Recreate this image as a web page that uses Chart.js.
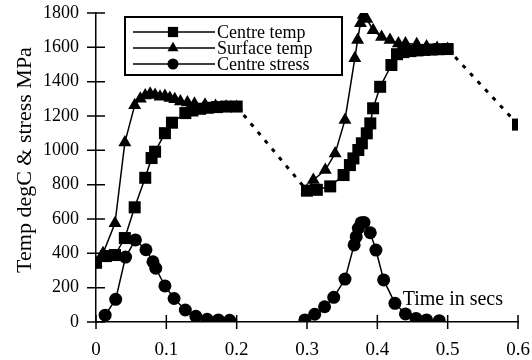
<!DOCTYPE html>
<html>
<head>
<meta charset="utf-8">
<script src="https://cdn.jsdelivr.net/npm/chart.js@4/dist/chart.umd.min.js"></script>
<style>
  html, body { margin: 0; padding: 0; background: #fff; }
  #wrap { position: relative; width: 532px; height: 360px; }
</style>
</head>
<body>
<div id="wrap"><canvas id="c"></canvas></div>
<script>
// ---- data ----
const seriesLabels = ['Centre temp', 'Surface temp', 'Centre stress'];

const centreTime = [0, 0.014, 0.027, 0.041, 0.055, 0.07, 0.079, 0.084, 0.098, 0.108, 0.127, 0.137, 0.148, 0.159, 0.172, 0.185, 0.2,
  0.3, 0.314, 0.333, 0.352, 0.361, 0.366, 0.373, 0.378, 0.385, 0.39, 0.394, 0.404, 0.42, 0.428, 0.437, 0.447, 0.457, 0.467, 0.477, 0.487, 0.5,
  0.6];
const centreTemp = [345, 384, 390, 489, 668, 840, 955, 992, 1100, 1161, 1217, 1232, 1242, 1248, 1252, 1255, 1255,
  765, 770, 790, 856, 914, 953, 1002, 1041, 1099, 1157, 1245, 1370, 1497, 1560, 1572, 1578, 1582, 1585, 1587, 1589, 1590,
  1150];

const surfaceTime = [0, 0.01, 0.027, 0.041, 0.055, 0.063, 0.07, 0.077, 0.084, 0.091, 0.098, 0.105, 0.112, 0.12, 0.13, 0.14, 0.155, 0.17, 0.185, 0.2,
  0.3, 0.309, 0.326, 0.34, 0.354, 0.368, 0.372, 0.376, 0.38, 0.385, 0.394, 0.406, 0.418, 0.43, 0.44, 0.456, 0.47, 0.485, 0.5];
const surfaceTemp = [345, 400, 575, 1045, 1262, 1300, 1320, 1330, 1322, 1312, 1316, 1305, 1298, 1285, 1278, 1272, 1265, 1258, 1254, 1252,
  765, 827, 885, 982, 1177, 1536, 1643, 1740, 1788, 1765, 1700, 1660, 1643, 1623, 1623, 1618, 1605, 1596, 1590];

const stressTime = [0.013, 0.028, 0.042, 0.056, 0.071, 0.081, 0.085, 0.098, 0.111, 0.127, 0.142, 0.158, 0.174, 0.19,
  0.297, 0.311, 0.325, 0.338, 0.354, 0.367, 0.37, 0.373, 0.377, 0.381, 0.39, 0.398, 0.409, 0.425, 0.44, 0.455, 0.47, 0.488];
const stressVal = [40, 132, 378, 478, 421, 351, 313, 210, 137, 70, 33, 16, 12, 10,
  12, 45, 89, 144, 250, 449, 497, 546, 578, 580, 520, 419, 245, 109, 47, 21, 12, 8];

const xTicks = [0, 0.1, 0.2, 0.3, 0.4, 0.5, 0.6];
const yTicks = [0, 200, 400, 600, 800, 1000, 1200, 1400, 1600, 1800];
const yTitle = 'Temp degC & stress MPa';
const xNote = 'Time in secs';

// ---- build ----
const pts = (t, v) => t.map((x, i) => ({ x: x, y: v[i] }));
const FONT = "'Liberation Serif', 'Times New Roman', serif";
const gapCheck = c => (c.p1.parsed.x - c.p0.parsed.x) > 0.05;

const markerStyles = ['rect', 'triangle', 'circle'];
const markerRadius = [8.5, 7.5, 6.5];

const datasets = [
  {
    label: seriesLabels[0], data: pts(centreTime, centreTemp),
    pointStyle: 'rect', pointRadius: 8.5,
    segment: {
      borderDash: c => gapCheck(c) ? [4, 7] : [],
      borderWidth: c => gapCheck(c) ? 3 : 1.5
    }
  },
  {
    label: seriesLabels[1], data: pts(surfaceTime, surfaceTemp),
    pointStyle: 'triangle', pointRadius: 7.5,
    segment: { borderColor: c => gapCheck(c) ? 'rgba(0,0,0,0)' : '#000' }
  },
  {
    label: seriesLabels[2], data: pts(stressTime, stressVal),
    pointStyle: 'circle', pointRadius: 6.5,
    segment: { borderColor: c => gapCheck(c) ? 'rgba(0,0,0,0)' : '#000' }
  }
].map(d => Object.assign({
  borderColor: '#000', backgroundColor: '#000', borderWidth: 1.5,
  pointBackgroundColor: '#000', pointBorderColor: '#000', pointBorderWidth: 0,
  tension: 0, fill: false
}, d));

function drawMarker(ctx, style, r, x, y) {
  ctx.beginPath();
  if (style === 'rect') {
    const s = r * Math.SQRT1_2;
    ctx.rect(x - s, y - s, 2 * s, 2 * s);
  } else if (style === 'triangle') {
    ctx.moveTo(x, y - r);
    ctx.lineTo(x + r * 0.866, y + r * 0.5);
    ctx.lineTo(x - r * 0.866, y + r * 0.5);
    ctx.closePath();
  } else {
    ctx.arc(x, y, r, 0, Math.PI * 2);
  }
  ctx.fill();
}

const decorPlugin = {
  id: 'decor',
  afterDraw(chart) {
    const ctx = chart.ctx;
    const xs = chart.scales.x, ys = chart.scales.y;
    const x0 = xs.left, y0 = ys.bottom;
    ctx.save();
    ctx.strokeStyle = '#000';
    ctx.fillStyle = '#000';
    ctx.lineWidth = 1.5;
    // crossing tick marks
    ctx.beginPath();
    ys.ticks.forEach(t => {
      const y = ys.getPixelForValue(t.value);
      ctx.moveTo(x0 - 9, y); ctx.lineTo(x0 + 9, y);
    });
    xs.ticks.forEach(t => {
      const x = xs.getPixelForValue(t.value);
      ctx.moveTo(x, y0 - 7); ctx.lineTo(x, y0 + 7);
    });
    ctx.stroke();

    // y axis title
    ctx.save();
    ctx.translate(25, 160);
    ctx.rotate(-Math.PI / 2);
    ctx.font = '22px ' + FONT;
    ctx.textAlign = 'center';
    ctx.textBaseline = 'middle';
    ctx.fillText(yTitle, 0, 0);
    ctx.restore();

    // in-plot axis note
    ctx.font = '20px ' + FONT;
    ctx.textBaseline = 'alphabetic';
    ctx.textAlign = 'left';
    ctx.fillText(xNote, xs.getPixelForValue(0.436), ys.getPixelForValue(0) - 17);

    // legend box
    const bx = 125, by = 17, bw = 217, bh = 58;
    ctx.lineWidth = 2;
    ctx.strokeRect(bx, by, bw, bh);
    ctx.font = '18px ' + FONT;
    ctx.textBaseline = 'middle';
    chart.data.datasets.forEach((d, i) => {
      const ly = by + 15 + i * 16;
      ctx.lineWidth = 1.5;
      ctx.beginPath();
      ctx.moveTo(bx + 8, ly); ctx.lineTo(bx + 90, ly);
      ctx.stroke();
      drawMarker(ctx, markerStyles[i], markerRadius[i] * 0.85, bx + 48, ly);
      ctx.fillText(d.label, bx + 92, ly + 1);
    });
    ctx.restore();
  }
};

new Chart(document.getElementById('c'), {
  type: 'line',
  data: { datasets: datasets },
  plugins: [decorPlugin],
  options: {
    responsive: true, maintainAspectRatio: false, animation: false,
    layout: { padding: { left: 0, top: 13, right: 14, bottom: 0 } },
    plugins: { legend: { display: false }, tooltip: { enabled: false } },
    scales: {
      x: {
        type: 'linear', min: 0, max: 0.6,
        afterFit: s => { s.height = 38; s.paddingLeft = 0; s.paddingRight = 0; },
        afterBuildTicks: s => { s.ticks = xTicks.map(v => ({ value: v })); },
        grid: { display: false, drawTicks: false },
        border: { display: true, color: '#000', width: 1.5 },
        ticks: { color: '#000', padding: 17, font: { family: FONT, size: 19 }, maxRotation: 0,
          callback: v => String(v) }
      },
      y: {
        type: 'linear', min: 0, max: 1800,
        afterFit: s => { s.width = 96; s.paddingTop = 0; s.paddingBottom = 0; },
        afterBuildTicks: s => { s.ticks = yTicks.map(v => ({ value: v })); },
        grid: { display: false, drawTicks: false },
        border: { display: true, color: '#000', width: 1.5 },
        ticks: { color: '#000', padding: 17, font: { family: FONT, size: 18 }, callback: v => String(v) }
      }
    }
  }
});
</script>
</body>
</html>
